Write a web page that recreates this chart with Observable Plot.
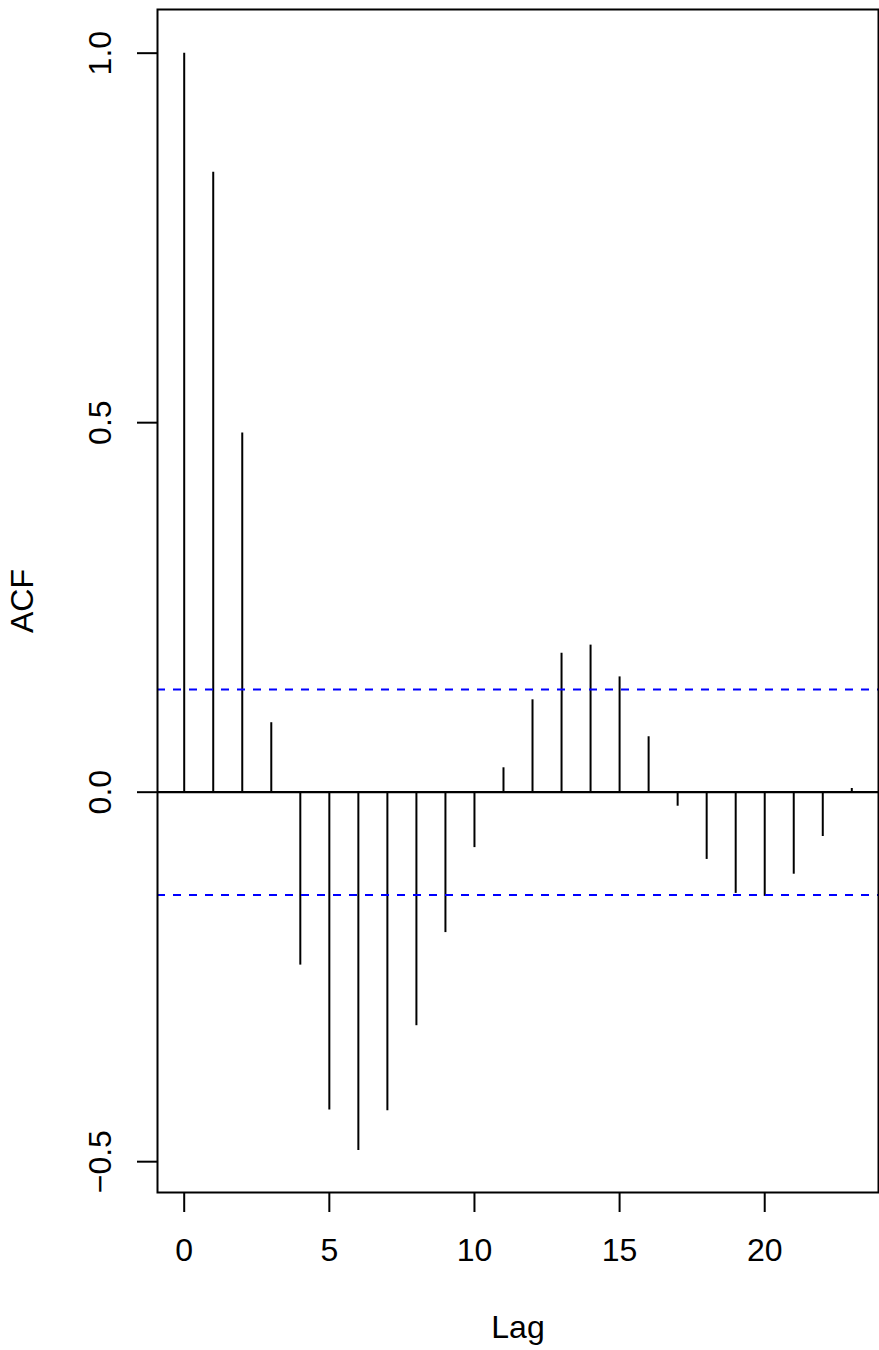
<!DOCTYPE html>
<html>
<head>
<meta charset="utf-8">
<script src="https://cdn.jsdelivr.net/npm/d3@7"></script>
<script src="https://cdn.jsdelivr.net/npm/@observablehq/plot@0.6"></script>
<style>
  html, body { margin: 0; padding: 0; background: #fff; }
  svg { display: block; }
</style>
</head>
<body>
<div id="chart"></div>
<script>
const lags = [0,1,2,3,4,5,6,7,8,9,10,11,12,13,14,15,16,17,18,19,20,21,22,23];
const acfValues = [1.0, 0.839, 0.486, 0.094, -0.234, -0.430, -0.485, -0.431, -0.316, -0.190, -0.075, 0.033, 0.125, 0.188, 0.199, 0.156, 0.075, -0.019, -0.091, -0.137, -0.141, -0.111, -0.060, 0.005];
const confBound = 0.139;
const xTicks = [0, 5, 10, 15, 20];
const yTicks = [-0.5, 0.0, 0.5, 1.0];
const xLabel = "Lag";
const yLabel = "ACF";

const data = lags.map((lag, i) => ({lag, acf: acfValues[i]}));
const font = "Liberation Sans, Arial, Helvetica, sans-serif";

const chart = Plot.plot({
  width: 879,
  height: 1350,
  marginLeft: 157,
  marginRight: 1,
  marginTop: 9,
  marginBottom: 158,
  style: {fontFamily: font, fontSize: "32px", background: "#fff", color: "#000"},
  x: {domain: [-0.92, 23.92]},
  y: {domain: [-0.5417, 1.0591]},
  marks: [
    Plot.ruleX(data, {x: "lag", y1: 0, y2: "acf", stroke: "#000", strokeWidth: 2}),
    Plot.ruleY([0], {stroke: "#000", strokeWidth: 2.3}),
    Plot.ruleY([confBound, -confBound], {stroke: "#0000FF", strokeWidth: 2, strokeDasharray: "8,8"}),
    Plot.frame({stroke: "#000", strokeWidth: 2}),
    Plot.axisX({ticks: xTicks, tickSize: 20, tickPadding: 26, strokeWidth: 2, fontSize: 32, label: null, tickFormat: d => String(d)}),
    Plot.axisY({ticks: yTicks, tickSize: 20, strokeWidth: 2, label: null, tickFormat: () => ""}),
    Plot.text(yTicks, {y: d => d, text: d => d.toFixed(1).replace("-", "\u2212"), frameAnchor: "left", dx: -57, rotate: -90, textAnchor: "middle", lineAnchor: "middle", fontSize: 32, fill: "#000"}),
    Plot.text([yLabel], {text: d => d, frameAnchor: "left", dx: -135, rotate: -90, textAnchor: "middle", lineAnchor: "middle", fontSize: 32, fill: "#000"}),
    Plot.text([xLabel], {text: d => d, frameAnchor: "bottom", dy: 123, textAnchor: "middle", lineAnchor: "top", fontSize: 32, fill: "#000"})
  ]
});
document.getElementById("chart").appendChild(chart);
</script>
</body>
</html>
